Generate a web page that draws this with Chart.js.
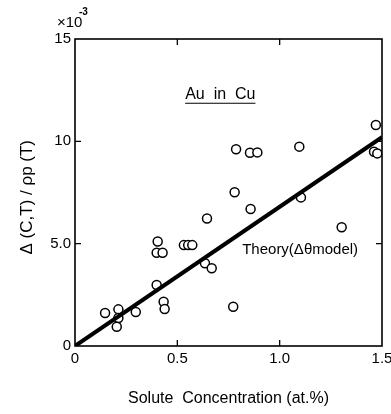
<!DOCTYPE html>
<html>
<head>
<meta charset="utf-8">
<script src="https://cdn.jsdelivr.net/npm/chart.js@4"></script>
<style>
  html, body { margin: 0; padding: 0; background: #fff; }
  #wrap { width: 391px; height: 414px; }
</style>
</head>
<body>
<div id="wrap"><canvas id="grafik" width="391" height="414"></canvas></div>
<script>
// data (konsentrasi at.%, nilai x10^-3)
const konsentrasi = [0.147, 0.212, 0.212, 0.204, 0.297, 0.404, 0.399, 0.428, 0.399, 0.433,
  0.438, 0.532, 0.553, 0.573, 0.645, 0.635, 0.668, 0.773, 0.780, 0.787,
  0.855, 0.891, 0.858, 1.096, 1.104, 1.303, 1.470, 1.461, 1.477];
const nilaiDelta = [1.61, 1.79, 1.37, 0.94, 1.66, 5.11, 4.56, 4.56, 2.98, 2.16,
  1.81, 4.93, 4.93, 4.93, 6.23, 4.04, 3.80, 1.92, 7.51, 9.61,
  9.44, 9.46, 6.69, 9.74, 7.26, 5.80, 10.80, 9.49, 9.41];
const teoriX = [0, 1.5];
const teoriY = [0, 10.2];
const tickX = [0, 0.5, 1.0, 1.5];
const labelX = ['0', '0.5', '1.0', '1.5'];
const tickY = [0, 5, 10, 15];
const labelY = ['0', '5.0', '10', '15'];

const FONT = '"Liberation Sans", Arial, sans-serif';

const titik = konsentrasi.map((c, i) => ({ x: c, y: nilaiDelta[i] }));
const garis = teoriX.map((c, i) => ({ x: c, y: teoriY[i] }));

// bingkai, tick ke dalam, dan teks tambahan
const hiasan = {
  id: 'hiasan',
  afterDraw(chart) {
    const { ctx, chartArea: a, scales: { x, y } } = chart;
    ctx.save();
    ctx.strokeStyle = '#000';
    ctx.lineWidth = 1.6;
    ctx.strokeRect(a.left, a.top, a.right - a.left, a.bottom - a.top);

    ctx.lineWidth = 1.3;
    tickX.slice(1, -1).forEach(v => {
      const px = x.getPixelForValue(v);
      ctx.beginPath();
      ctx.moveTo(px, a.bottom); ctx.lineTo(px, a.bottom - 6);
      ctx.moveTo(px, a.top); ctx.lineTo(px, a.top + 6);
      ctx.stroke();
    });
    tickY.slice(1, -1).forEach(v => {
      const py = y.getPixelForValue(v);
      ctx.beginPath();
      ctx.moveTo(a.left, py); ctx.lineTo(a.left + 6, py);
      ctx.moveTo(a.right, py); ctx.lineTo(a.right - 6, py);
      ctx.stroke();
    });

    ctx.fillStyle = '#000';
    ctx.textBaseline = 'middle';
    // x10^-3
    ctx.font = '15px ' + FONT;
    ctx.textAlign = 'left';
    ctx.fillText('×10', 57, 23);
    ctx.font = 'bold 10px ' + FONT;
    ctx.fillText('-3', 79, 12);

    // Au in Cu
    ctx.font = '16px ' + FONT;
    ctx.textAlign = 'center';
    const ax = x.getPixelForValue(0.71), ay = y.getPixelForValue(12.3);
    ctx.fillText('Au  in  Cu', ax, ay);
    const w = ctx.measureText('Au  in  Cu').width;
    ctx.lineWidth = 1.2;
    ctx.beginPath();
    ctx.moveTo(ax - w / 2, ay + 9); ctx.lineTo(ax + w / 2, ay + 9);
    ctx.stroke();

    // Theory
    ctx.font = '15px ' + FONT;
    ctx.fillText('Theory(Δθmodel)', x.getPixelForValue(1.1), y.getPixelForValue(4.72));
    ctx.restore();
  }
};

new Chart(document.getElementById('grafik'), {
  type: 'scatter',
  data: {
    datasets: [
      {
        type: 'line',
        data: garis,
        borderColor: '#000',
        borderWidth: 4,
        pointRadius: 0,
        fill: false
      },
      {
        data: titik,
        pointRadius: 4.5,
        pointBorderWidth: 1.5,
        pointBorderColor: '#000',
        pointBackgroundColor: '#fff'
      }
    ]
  },
  options: {
    responsive: false,
    animation: false,
    events: [],
    layout: { padding: { top: 39, right: 9, left: 0, bottom: 0 } },
    plugins: { legend: { display: false }, tooltip: { enabled: false } },
    scales: {
      x: {
        type: 'linear',
        min: 0, max: 1.5,
        afterBuildTicks: s => { s.ticks = tickX.map(v => ({ value: v })); },
        afterFit: s => { s.height = 68; s.paddingLeft = 0; s.paddingRight = 0; },
        grid: { display: false, drawTicks: false },
        border: { display: false },
        ticks: {
          padding: 4,
          color: '#000',
          font: { family: FONT, size: 15 },
          maxRotation: 0,
          callback: (v) => labelX[tickX.indexOf(v)]
        },
        title: {
          display: true,
          text: 'Solute  Concentration (at.%)',
          color: '#000',
          font: { family: FONT, size: 16 },
          padding: { top: 0, bottom: 6 }
        }
      },
      y: {
        type: 'linear',
        min: 0, max: 15,
        afterBuildTicks: s => { s.ticks = tickY.map(v => ({ value: v })); },
        afterFit: s => { s.width = 75; s.paddingTop = 0; s.paddingBottom = 0; },
        grid: { display: false, drawTicks: false },
        border: { display: false },
        ticks: {
          padding: 4,
          color: '#000',
          font: { family: FONT, size: 15 },
          callback: (v) => labelY[tickY.indexOf(v)]
        },
        title: {
          display: true,
          text: 'Δ (C,T) / ρp (T)  ',
          color: '#000',
          font: { family: FONT, size: 17 },
          padding: { top: 17, bottom: 0 }
        }
      }
    }
  },
  plugins: [hiasan]
});
</script>
</body>
</html>
